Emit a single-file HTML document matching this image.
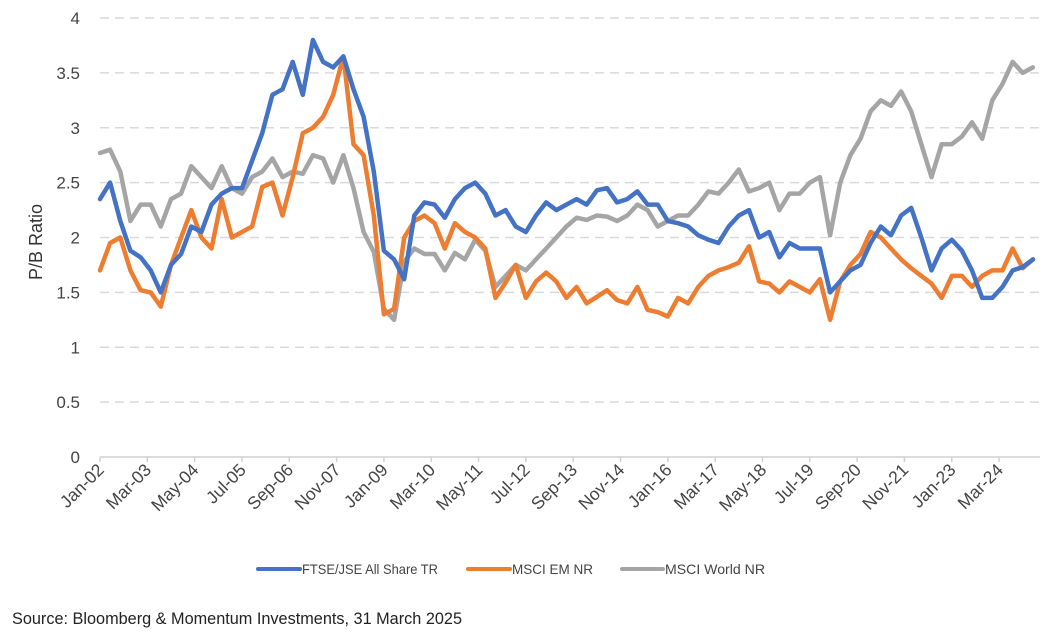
<!DOCTYPE html>
<html><head><meta charset="utf-8"><style>
html,body{margin:0;padding:0;background:#fff;}
svg{display:block;font-family:"Liberation Sans",sans-serif;}
</style></head><body>
<svg id="chart" width="1064" height="632" viewBox="0 0 1064 632">
<g id="grid"></g>
<g id="yticks"></g>
<g id="xaxis"></g>
<g id="series"></g>
<text transform="translate(42,242) rotate(-90)" text-anchor="middle" font-size="18" fill="#333">P/B Ratio</text>
<g>
<g><line x1="258" y1="569" x2="300" y2="569" stroke="#4472c4" stroke-width="4" stroke-linecap="round"/><text x="302" y="574" font-size="14" fill="#444" textLength="136" lengthAdjust="spacingAndGlyphs">FTSE/JSE All Share TR</text></g>
<g><line x1="468" y1="569" x2="510" y2="569" stroke="#ed7d31" stroke-width="4" stroke-linecap="round"/><text x="512" y="574" font-size="14" fill="#444" textLength="81" lengthAdjust="spacingAndGlyphs">MSCI EM NR</text></g>
<g><line x1="622" y1="569" x2="663" y2="569" stroke="#a5a5a5" stroke-width="4" stroke-linecap="round"/><text x="665" y="574" font-size="14" fill="#444" textLength="100" lengthAdjust="spacingAndGlyphs">MSCI World NR</text></g>
</g>
<text x="12" y="624" font-size="17" fill="#222" textLength="450" lengthAdjust="spacingAndGlyphs">Source: Bloomberg &amp; Momentum Investments, 31 March 2025</text>
</svg>
<script>
const yTicks=[0,0.5,1,1.5,2,2.5,3,3.5,4];
const yTickLabels=["0","0.5","1","1.5","2","2.5","3","3.5","4"];
const xTickLabels=["Jan-02","Mar-03","May-04","Jul-05","Sep-06","Nov-07","Jan-09","Mar-10","May-11","Jul-12","Sep-13","Nov-14","Jan-16","Mar-17","May-18","Jul-19","Sep-20","Nov-21","Jan-23","Mar-24"];
const xTickMonths=xTickLabels.map((_,i)=>i*14);
const ftse=[2.35,2.5,2.15,1.88,1.82,1.7,1.5,1.75,1.85,2.1,2.05,2.3,2.4,2.45,2.45,2.7,2.95,3.3,3.35,3.6,3.3,3.8,3.6,3.55,3.65,3.35,3.1,2.6,1.88,1.8,1.62,2.2,
2.32,2.3,2.18,2.35,2.45,2.5,2.4,2.2,2.25,2.1,2.05,2.2,2.32,2.25,2.3,2.35,2.3,2.43,2.45,2.32,2.35,2.42,2.3,2.3,2.15,2.13,2.1,2.02,1.98,1.95,2.1,2.2,2.25,2.0,2.05,1.82,1.95,1.9,1.9,1.9,1.5,1.6,1.7,1.75,1.95,2.1,2.02,2.2,2.27,2.0,1.7,1.9,1.98,1.88,1.7,1.45,1.45,1.55,1.7,1.73,1.8];
const msciEm=[1.7,1.95,2.0,1.7,1.52,1.5,1.37,1.75,2.0,2.25,2.0,1.9,2.35,2.0,2.05,2.1,2.46,2.5,2.2,2.55,2.95,3.0,3.1,3.3,3.65,2.85,2.75,2.2,1.3,1.35,2.0,2.15,
2.2,2.13,1.9,2.13,2.05,2.0,1.9,1.45,1.59,1.75,1.45,1.6,1.68,1.6,1.45,1.55,1.4,1.46,1.52,1.43,1.4,1.55,1.34,1.32,1.28,1.45,1.4,1.55,1.65,1.7,1.73,1.77,1.92,1.6,1.58,1.5,1.6,1.55,1.5,1.62,1.25,1.6,1.75,1.85,2.05,2.0,1.9,1.8,1.72,1.65,1.58,1.45,1.65,1.65,1.55,1.65,1.7,1.7,1.9,1.72,1.8];
const msciWorld=[2.77,2.8,2.6,2.15,2.3,2.3,2.1,2.35,2.4,2.65,2.55,2.45,2.65,2.45,2.4,2.55,2.6,2.72,2.55,2.6,2.58,2.75,2.72,2.5,2.75,2.45,2.05,1.87,1.35,1.25,1.78,1.9,
1.85,1.85,1.7,1.86,1.8,1.98,1.88,1.55,1.65,1.75,1.7,1.8,1.9,2.0,2.1,2.18,2.16,2.2,2.19,2.15,2.2,2.3,2.25,2.1,2.15,2.2,2.2,2.3,2.42,2.4,2.5,2.62,2.42,2.45,2.5,2.25,2.4,2.4,2.5,2.55,2.02,2.5,2.75,2.9,3.15,3.25,3.2,3.33,3.15,2.85,2.55,2.85,2.85,2.92,3.05,2.9,3.25,3.4,3.6,3.5,3.55];
const monthsPerPoint=3;
const NS="http://www.w3.org/2000/svg";
const X0=100,PXM=3.38,Y0=457,PXV=109.75,XEND=1040;
const xScale=m=>X0+m*PXM;
const yScale=v=>Y0-v*PXV;
function mk(tag,attrs,parent){const e=document.createElementNS(NS,tag);for(const k in attrs)e.setAttribute(k,attrs[k]);parent.appendChild(e);return e;}
const grid=document.getElementById('grid'),yt=document.getElementById('yticks'),xa=document.getElementById('xaxis'),ser=document.getElementById('series');
yTicks.forEach((v,i)=>{
  if(v>0){const l=mk('line',{x1:X0,x2:XEND,y1:yScale(v),y2:yScale(v),stroke:'#d9d9d9','stroke-width':1.5,'stroke-dasharray':'9,6'},grid);
  
  }
  const t=mk('text',{x:80,y:yScale(v)+6,'text-anchor':'end','font-size':17,fill:'#444'},yt);
  t.textContent=yTickLabels[i];
  
  
});
const ax=mk('line',{x1:X0,x2:XEND,y1:Y0,y2:Y0,stroke:'#d0d0d0','stroke-width':1.5},xa);


xTickMonths.forEach((m,i)=>{
  const x=xScale(m);
  const tk=mk('line',{x1:x,x2:x,y1:Y0,y2:Y0+5,stroke:'#d0d0d0','stroke-width':1.5},xa);
  
  
  const t=mk('text',{transform:`translate(${x+5},${Y0+14}) rotate(-45)`,'text-anchor':'end','font-size':17.5,fill:'#444'},xa);
  t.textContent=xTickLabels[i];
  
  
});
[[msciWorld,'#a5a5a5','series-msci-world'],[msciEm,'#ed7d31','series-msci-em'],[ftse,'#4472c4','series-ftse-jse']].forEach(([d,c,n])=>{
  const pts=d.map((v,i)=>xScale(i*monthsPerPoint).toFixed(1)+','+yScale(v).toFixed(1)).join(' ');
  const p=mk('polyline',{points:pts,fill:'none',stroke:c,'stroke-width':4.5,'stroke-linejoin':'round','stroke-linecap':'round'},ser);
  
  
});
</script>
</body></html>
